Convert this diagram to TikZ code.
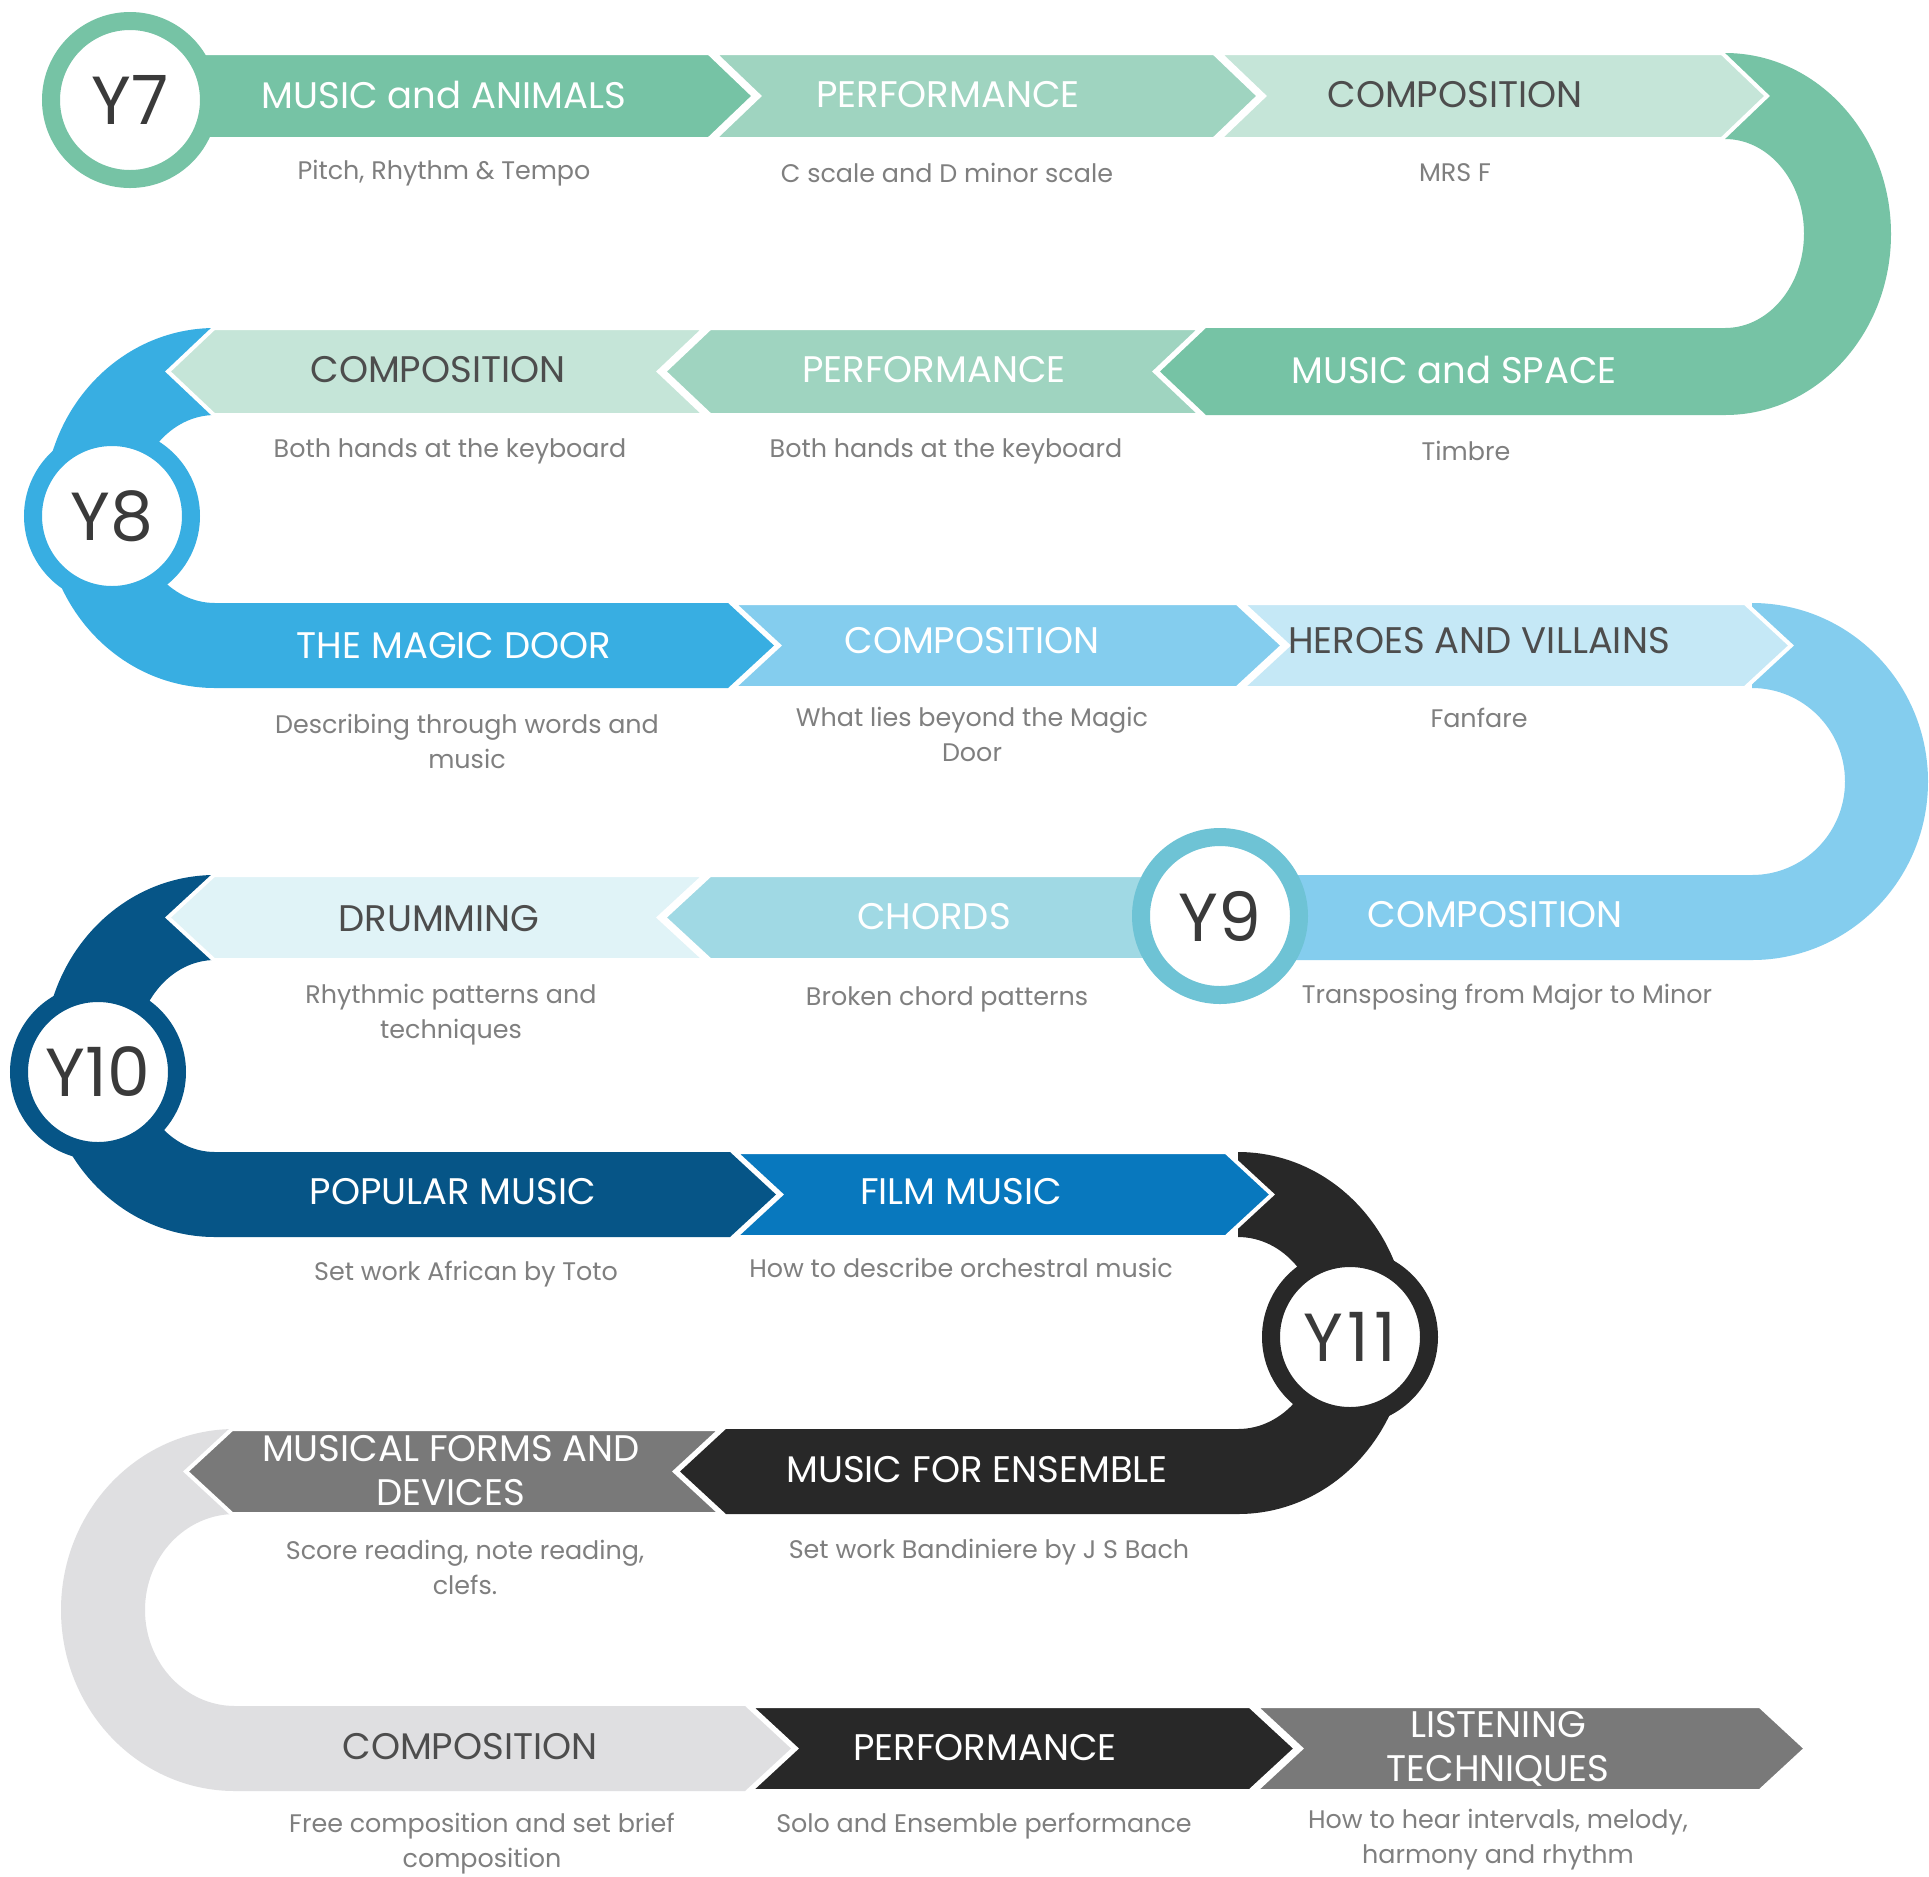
\documentclass[tikz,border=0pt]{standalone}
\usepackage{fontspec}
\setmainfont{Poppins}
\definecolor{gA}{HTML}{76C3A5}
\definecolor{gB}{HTML}{9FD4C0}
\definecolor{gC}{HTML}{C5E5D8}
\definecolor{bA}{HTML}{38AEE2}
\definecolor{bB}{HTML}{84CDEE}
\definecolor{bC}{HTML}{C5E8F6}
\definecolor{tR}{HTML}{6EC3D5}
\definecolor{tB}{HTML}{A0D9E4}
\definecolor{tC}{HTML}{E0F3F7}
\definecolor{nA}{HTML}{065587}
\definecolor{nB}{HTML}{0878BE}
\definecolor{kA}{HTML}{282828}
\definecolor{kB}{HTML}{797979}
\definecolor{kC}{HTML}{DFDFE1}
\definecolor{darktxt}{HTML}{4D4D4D}
\definecolor{lblgray}{HTML}{7F7F7F}
\definecolor{ytext}{HTML}{3A3A3A}
\tikzset{
  ttl/.style={font=\fontsize{18.5}{22}\selectfont, align=center, inner sep=0pt},
  wt/.style={ttl, text=white},
  dk/.style={ttl, text=darktxt},
  lbl/.style={font=\fontsize{12.7}{17.5}\selectfont, text=lblgray, align=center, inner sep=0pt},
  yr/.style={circle, fill=white, line width=9pt, minimum size=79pt, inner sep=0pt,
             font=\fontsize{34}{34}\selectfont, text=ytext},
  seg/.style={draw=white, line width=2pt, line join=miter},
}
\begin{document}
\begin{tikzpicture}[x=0.5pt, y=-0.5pt]
\useasboundingbox (0,0) rectangle (1929,1876);
\fill[white] (0,0) rectangle (1929,1876);

% ---------- U shapes (with merged bands) ----------
\fill[gA] (1725,53) arc[start angle=90, end angle=-90, x radius=83pt, y radius=90.5pt]
  -- (1206,415) -- (1160,371.5) -- (1206,328) -- (1725,328)
  arc[start angle=-90, end angle=90, x radius=39.5pt, y radius=47.25pt] -- cycle;
\fill[bA] (215,328) arc[start angle=90, end angle=270, x radius=85.5pt, y radius=90pt]
  -- (728,688) -- (774,645.5) -- (728,603) -- (215,603)
  arc[start angle=270, end angle=90, x radius=40pt, y radius=47pt] -- cycle;
\fill[bB] (1752,603) arc[start angle=90, end angle=-90, x radius=88pt, y radius=89.25pt]
  -- (1220,960) -- (1220,875) -- (1752,875)
  arc[start angle=-90, end angle=90, x radius=46.5pt, y radius=46.75pt] -- cycle;
\fill[nA] (215,875) arc[start angle=90, end angle=270, x radius=85.5pt, y radius=90.5pt]
  -- (730,1237) -- (776,1194.5) -- (730,1152) -- (215,1152)
  arc[start angle=270, end angle=90, x radius=40pt, y radius=48pt] -- cycle;
\fill[kA] (1238,1152) arc[start angle=90, end angle=-90, x radius=85pt, y radius=90.5pt]
  -- (726,1514) -- (680,1471.5) -- (726,1429) -- (1238,1429)
  arc[start angle=-90, end angle=90, x radius=41pt, y radius=48pt] -- cycle;
\fill[kC] (235,1429) arc[start angle=90, end angle=270, x radius=87pt, y radius=90.5pt]
  -- (745,1791) -- (791,1748.5) -- (745,1706) -- (235,1706)
  arc[start angle=270, end angle=90, x radius=45pt, y radius=48pt] -- cycle;

% ---------- chevrons ----------
% row 1
\filldraw[seg, fill=gA] (130,53) -- (709,53) -- (754,96) -- (709,139) -- (130,139) -- cycle;
\filldraw[seg, fill=gB] (714,53) -- (1214,53) -- (1259,96) -- (1214,139) -- (714,139) -- (759,96) -- cycle;
\filldraw[seg, fill=gC] (1219,53) -- (1722,53) -- (1767,96) -- (1722,139) -- (1219,139) -- (1264,96) -- cycle;
% row 2
\filldraw[seg, fill=gB] (710,328) -- (1201,328) -- (1155,371.5) -- (1201,415) -- (710,415) -- (664,371.5) -- cycle;
\filldraw[seg, fill=gC] (214,328) -- (705,328) -- (659,371.5) -- (705,415) -- (214,415) -- (168,371.5) -- cycle;
% row 3
\filldraw[seg, fill=bB] (733,603) -- (1237,603) -- (1283,645.5) -- (1237,688) -- (733,688) -- (779,645.5) -- cycle;
\filldraw[seg, fill=bC] (1242,603) -- (1745,603) -- (1791,645.5) -- (1745,688) -- (1242,688) -- (1288,645.5) -- cycle;
% row 4
\filldraw[seg, fill=tB] (710,875) -- (1225,875) -- (1225,960) -- (710,960) -- (664,917.5) -- cycle;
\filldraw[seg, fill=tC] (214,875) -- (705,875) -- (659,917.5) -- (705,960) -- (214,960) -- (168,917.5) -- cycle;
% row 5
\filldraw[seg, fill=nB] (735,1152) -- (1226,1152) -- (1272,1194.5) -- (1226,1237) -- (735,1237) -- (781,1194.5) -- cycle;
% row 6
\filldraw[seg, fill=kB] (232,1429) -- (721,1429) -- (675,1471.5) -- (721,1514) -- (232,1514) -- (186,1471.5) -- cycle;
% row 7
\filldraw[seg, fill=kA] (750,1706) -- (1250,1706) -- (1296,1748.5) -- (1250,1791) -- (750,1791) -- (796,1748.5) -- cycle;
\filldraw[seg, fill=kB] (1255,1706) -- (1760,1706) -- (1806,1748.5) -- (1760,1791) -- (1255,1791) -- (1301,1748.5) -- cycle;

% ---------- year circles ----------
\node[yr, draw=gA] (y7) at (130,100) {Y7};
\node[yr, draw=bA] (y8) at (112,516) {Y8};
\node[yr, draw=tR] (y9) at (1220,916) {Y9};
\node[yr, draw=nA] (y10) at (98,1072) {Y10};
\node[yr, draw=kA] (y11) at (1350,1337) {Y\kern2pt1\kern3pt1};

% ---------- titles ----------
\node[wt] (t1a) at (444,95) {MUSIC and ANIMALS};
\node[wt] (t1b) at (948,95) {PERFORMANCE};
\node[dk] (t1c) at (1455,95) {COMPOSITION};
\node[wt] (t2a) at (1454,370) {MUSIC and SPACE};
\node[wt] (t2b) at (934,370) {PERFORMANCE};
\node[dk] (t2c) at (438,370) {COMPOSITION};
\node[wt] (t3a) at (454,646) {THE MAGIC DOOR};
\node[wt] (t3b) at (972,641) {COMPOSITION};
\node[dk] (t3c) at (1479,641) {HEROES AND VILLAINS};
\node[wt] (t4a) at (1495,915) {COMPOSITION};
\node[wt] (t4b) at (934,917) {CHORDS};
\node[dk] (t4c) at (439,919) {DRUMMING};
\node[wt] (t5a) at (453,1192) {POPULAR MUSIC};
\node[wt] (t5b) at (961,1192) {FILM MUSIC};
\node[wt] (t6a) at (977,1470) {MUSIC FOR ENSEMBLE};
\node[wt] (t6b) at (451,1471) {MUSICAL FORMS AND\\DEVICES};
\node[dk] (t7a) at (470,1747) {COMPOSITION};
\node[wt] (t7b) at (985,1748) {PERFORMANCE};
\node[wt] (t7c) at (1498,1749) {LISTENING\\TECHNIQUES};

% ---------- labels ----------
\node[lbl] (l1a) at (444,173) {Pitch, Rhythm \& Tempo};
\node[lbl] (l1b) at (947,173) {C scale and D minor scale};
\node[lbl] (l1c) at (1455,173) {MRS F};
\node[lbl] (l2c) at (450,451) {Both hands at the keyboard};
\node[lbl] (l2b) at (946,451) {Both hands at the keyboard};
\node[lbl] (l2a) at (1466,451) {Timbre};
\node[lbl] (l3a) at (467,741) {Describing through words and\\music};
\node[lbl] (l3b) at (972,734) {What lies beyond the Magic\\Door};
\node[lbl] (l3c) at (1479,718) {Fanfare};
\node[lbl] (l4c) at (451,1015) {Rhythmic patterns and\\techniques};
\node[lbl] (l4b) at (947,999) {Broken chord patterns};
\node[lbl] (l4a) at (1507,997) {Transposing from Major to Minor};
\node[lbl] (l5a) at (466,1274) {Set work African by Toto};
\node[lbl] (l5b) at (961,1268) {How to describe orchestral music};
\node[lbl] (l6b) at (465,1567) {Score reading, note reading,\\clefs.};
\node[lbl] (l6a) at (989,1552) {Set work Bandiniere by J S Bach};
\node[lbl] (l7a) at (482,1844) {Free composition and set brief\\composition};
\node[lbl] (l7b) at (984,1826) {Solo and Ensemble performance};
\node[lbl] (l7c) at (1498,1840) {How to hear intervals, melody,\\harmony and rhythm};
\end{tikzpicture}
\end{document}
